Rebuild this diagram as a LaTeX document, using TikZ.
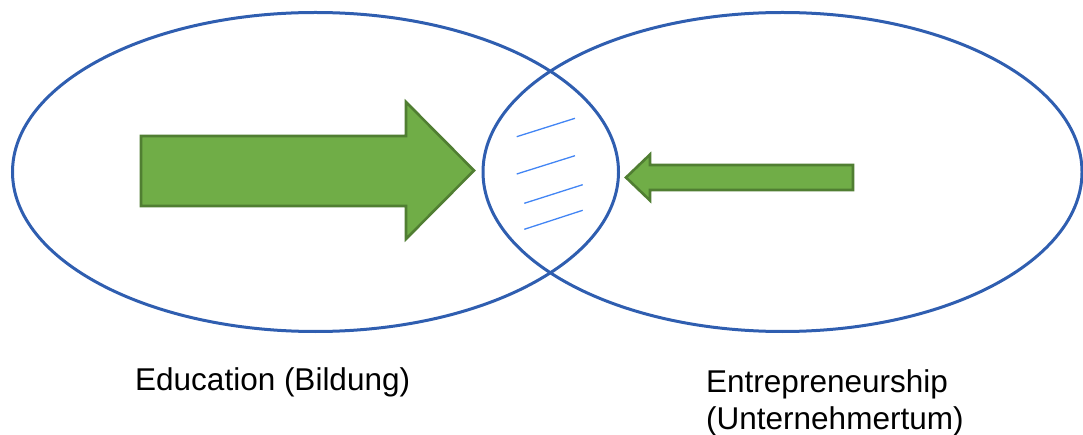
\documentclass[tikz,border=0pt]{standalone}
\usepackage{fontspec}
\setmainfont{Liberation Sans}
\usetikzlibrary{shapes.geometric, positioning}
\definecolor{setblue}{RGB}{47,94,176}
\definecolor{hatchblue}{RGB}{66,133,244}
\definecolor{arrowfill}{RGB}{112,173,71}
\definecolor{arrowedge}{RGB}{80,126,50}

\begin{document}
\begin{tikzpicture}[x=1pt,y=-1pt,
    every node/.style={font=\fontsize{31.5}{37}\selectfont}]
  \tikzstyle{setE}=[ellipse,draw=setblue,line width=3pt,minimum width=606pt,minimum height=319pt,inner sep=0pt]
  \tikzstyle{arrowB}=[fill=arrowfill,draw=arrowedge,line width=2.6pt,line join=miter]
  \tikzstyle{hatchL}=[draw=hatchblue,line width=1.3pt]
  \tikzstyle{labelT}=[inner sep=0pt,align=left]
  \useasboundingbox (0,0) rectangle (1083,435);

  % Sets
  \node[setE]                     (edu) at (315.5,172) {};
  \node[setE, minimum width=599pt] (ent) at (782.5,172) {};

  % Arrows into the overlap
  \coordinate (bigtip) at (474,170.5);
  \coordinate (smalltip) at (626,177.5);
  \filldraw[arrowB] (141,136) -- (406,136) -- (406,102) -- (bigtip)
    -- (406,239) -- (406,206) -- (141,206) -- cycle;
  \filldraw[arrowB] (853,165) -- (650,165) -- (650,154.5) -- (smalltip)
    -- (650,200.5) -- (650,190) -- (853,190) -- cycle;

  % Hatching in the overlap
  \foreach \xa/\ya/\xb/\yb in {516.7/136.7/575/118.3, 516.7/174/575/155.7,
      524.3/203.3/582.7/184.7, 524.3/229.3/582.7/210.3}
    \draw[hatchL] (\xa,\ya) -- (\xb,\yb);

  % Labels
  \node[labelT, anchor=base west]  (edulabel) at (135,390) {Education (Bildung)};
  \node[labelT, anchor=north west] (entlabel) at (706,369) {Entrepreneurship\\(Unternehmertum)};
\end{tikzpicture}
\end{document}
